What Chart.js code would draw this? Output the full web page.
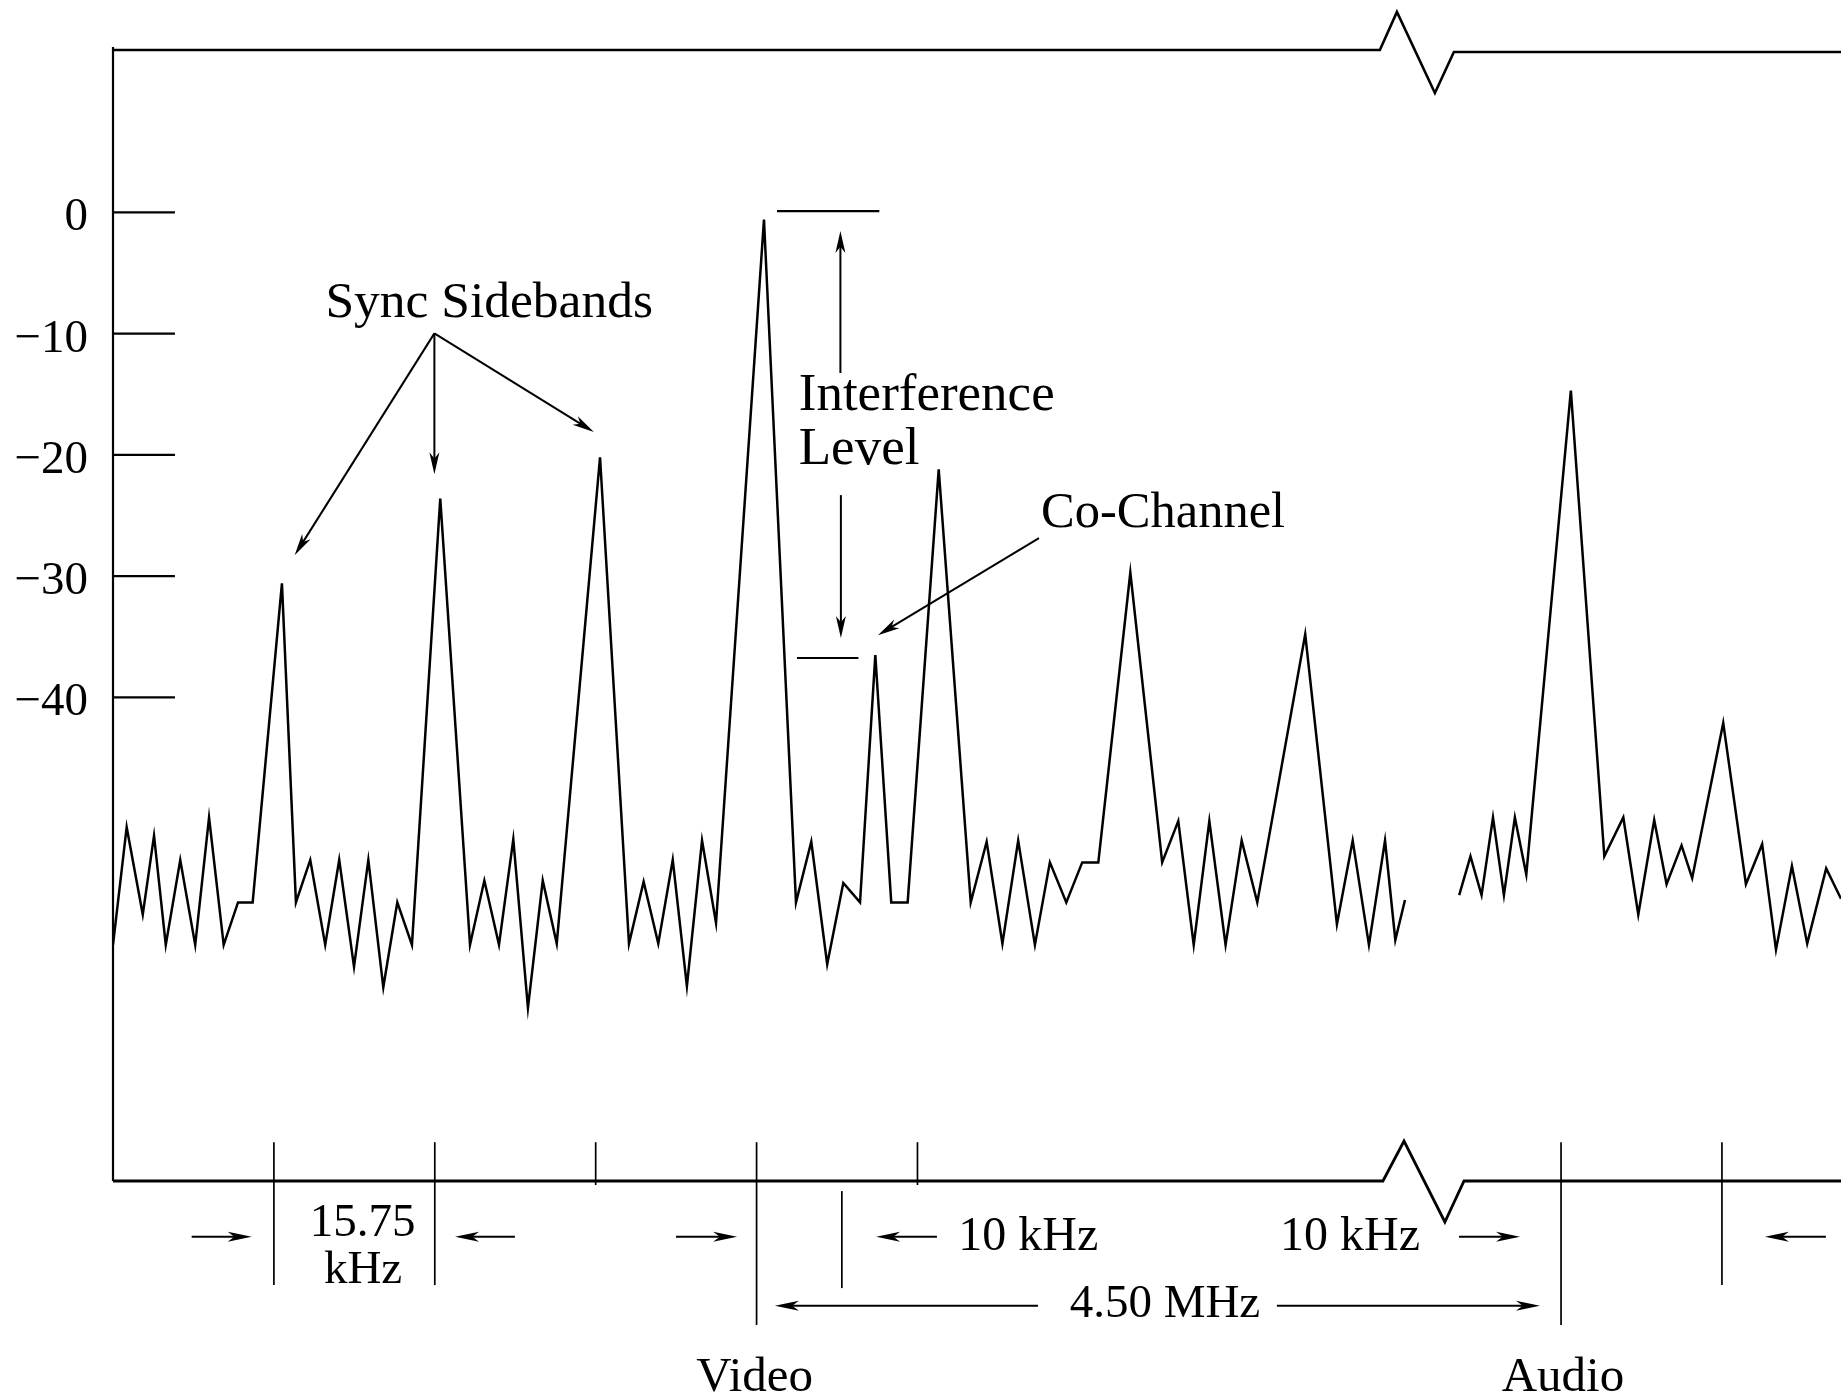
<!DOCTYPE html>
<html><head><meta charset="utf-8">
<script src="https://cdn.jsdelivr.net/npm/chart.js@4/dist/chart.umd.min.js"></script>
<style>html,body{margin:0;padding:0;background:#fff;}#wrap{width:1841px;height:1398px;position:relative;}</style>
</head><body><div id="wrap"><canvas id="c" width="1841" height="1398"></canvas></div>
<script>
// Schematic frequency position, in multiples of the line frequency (15.75 kHz) from the video carrier
const freqPos = [-4.00,-3.915,-3.815,-3.745,-3.672,-3.582,-3.489,-3.403,-3.312,-3.223,-3.132,-2.950,-2.863,-2.774,-2.681,-2.594,-2.502,-2.413,-2.320,-2.233,-2.142,-1.966,-1.781,-1.692,-1.601,-1.512,-1.421,-1.329,-1.242,-0.973,-0.793,-0.702,-0.611,-0.521,-0.433,-0.339,-0.252,0.046,0.245,0.340,0.439,0.539,0.643,0.738,0.837,0.939,1.132,1.331,1.430,1.528,1.626,1.730,1.823,1.925,2.024,2.124,2.323,2.521,2.621,2.717,2.814,2.915,3.015,3.112,3.410,3.607,3.705,3.806,3.906,3.970,4.030,4.200,4.367,4.437,4.506,4.577,4.645,4.713,4.784,5.061,5.269,5.387,5.480,5.579,5.656,5.749,5.815,6.008,6.149,6.250,6.336,6.435,6.530,6.648,6.740];
// Relative level (dB); null marks the axis break
const levelDb = [-60.4,-50.7,-57.9,-51.4,-60.4,-53.4,-60.4,-49.9,-60.4,-56.9,-56.9,-30.6,-56.9,-53.4,-60.4,-53.4,-62.2,-53.4,-63.9,-56.9,-60.4,-23.6,-60.4,-55.1,-60.4,-51.7,-65.6,-55.1,-60.3,-20.2,-60.3,-55.2,-60.3,-53.4,-63.8,-51.8,-58.6,-0.6,-56.9,-51.9,-62.0,-55.3,-56.9,-36.5,-56.9,-56.9,-21.2,-56.9,-51.9,-60.3,-51.8,-60.4,-53.6,-56.9,-53.6,-53.6,-29.7,-53.6,-50.2,-60.4,-50.2,-60.4,-51.8,-56.9,-34.8,-58.7,-51.8,-60.4,-51.8,-60.0,-56.7,null,-56.3,-53.1,-56.3,-49.9,-56.3,-49.9,-54.6,-14.7,-53.1,-49.9,-57.9,-50.1,-55.4,-52.2,-54.9,-42.1,-55.4,-52.1,-60.8,-53.9,-60.3,-54.1,-56.6];
const yTickValues = [0,-10,-20,-30,-40];
const yTickLabels = ['0','\u221210','\u221220','\u221230','\u221240'];
const xTickValues = [-3,-2,-1,0,1,5,6];

const points = freqPos.map((x,i)=>({x:x,y:levelDb[i]}));

function arrowHead(ctx, x1,y1,x2,y2,len,half){
  const a=Math.atan2(y2-y1,x2-x1);
  ctx.save();ctx.translate(x2,y2);ctx.rotate(a);
  ctx.beginPath();ctx.moveTo(0,0);ctx.lineTo(-len,-half);ctx.lineTo(-len*0.72,0);ctx.lineTo(-len,half);ctx.closePath();
  ctx.fill();ctx.restore();
}

const decor = {
  id:'decor',
  afterDraw(chart){
    const ctx=chart.ctx, xs=chart.scales.x, ys=chart.scales.y;
    const X=v=>xs.getPixelForValue(v), Y=v=>ys.getPixelForValue(v);
    const yTop=ys.max, yBot=ys.min, xL=xs.min, xR=xs.max;
    ctx.save();
    ctx.strokeStyle='#000';ctx.fillStyle='#000';ctx.lineJoin='miter';ctx.lineCap='butt';
    const poly=(pts,w)=>{ctx.lineWidth=w;ctx.beginPath();pts.forEach((p,i)=>{const px=X(p[0]),py=Y(p[1]);i?ctx.lineTo(px,py):ctx.moveTo(px,py);});ctx.stroke();};
    const arrow=(x1,y1,x2,y2,w,len,half)=>{
      const a1=X(x1),b1=Y(y1),a2=X(x2),b2=Y(y2);
      const ang=Math.atan2(b2-b1,a2-a1);
      ctx.lineWidth=w;ctx.beginPath();ctx.moveTo(a1,b1);ctx.lineTo(a2-Math.cos(ang)*len*0.6,b2-Math.sin(ang)*len*0.6);ctx.stroke();
      arrowHead(ctx,a1,b1,a2,b2,len,half);
    };
    // frame: top line with break
    poly([[xL,yTop],[3.874,yTop],[3.980,16.52],[4.216,9.84],[4.334,13.22],[xR,13.22]],2.6);
    // left axis
    poly([[xL,13.63],[xL,yBot]],2.2);
    // bottom axis with break
    poly([[xL,yBot],[3.893,yBot],[4.024,-76.58],[4.278,-83.25],[4.397,yBot],[xR,yBot]],2.8);
    // y ticks and labels
    ctx.font='47px "Liberation Serif"';ctx.textAlign='right';ctx.textBaseline='alphabetic';
    yTickValues.forEach((v,i)=>{
      poly([[xL,v],[-3.615,v]],2.2);
      ctx.fillText(yTickLabels[i],X(-4.155),Y(v)+18);
    });
    // x ticks
    const tickEnds={'-3':-88.45,'-2':-88.45,'-1':-80.2,'0':-91.74,'1':-80.2,'5':-91.74,'6':-88.45};
    xTickValues.forEach(v=>{poly([[v,-76.67],[v,tickEnds[String(v)]]],1.7);});
    poly([[0.53,-80.7],[0.53,-88.7]],1.7);
    // bottom dimension arrows
    const ay=-84.47;
    arrow(-3.511,ay,-3.138,ay,2,24,5);
    arrow(-1.502,ay,-1.874,ay,2,24,5);
    arrow(-0.501,ay,-0.121,ay,2,24,5);
    arrow(1.121,ay,0.743,ay,2,24,5);
    arrow(4.366,ay,4.745,ay,2,24,5);
    arrow(6.646,ay,6.267,ay,2,24,5);
    arrow(1.749,-90.15,0.114,-90.15,2,24,5);
    arrow(3.234,-90.15,4.869,-90.15,2,24,5);
    // bottom texts
    ctx.font='47px "Liberation Serif"';ctx.textAlign='center';
    ctx.fillText('15.75',X(-2.449),Y(-84.38));
    ctx.fillText('kHz',X(-2.446),Y(-88.28));
    ctx.fillText('4.50 MHz',X(2.538),Y(-91.1));
    ctx.font='49px "Liberation Serif"';
    ctx.fillText('Video',X(-0.012),Y(-97.19));
    ctx.fillText('Audio',X(5.012),Y(-97.19));
    ctx.font='48px "Liberation Serif"';ctx.textAlign='left';
    ctx.fillText('10 kHz',X(1.254),Y(-85.56));
    ctx.fillText('10 kHz',X(3.253),Y(-85.56));
    // annotations in plot
    ctx.textAlign='left';
    ctx.font='51.5px "Liberation Serif"';
    ctx.fillText('Sync Sidebands',X(-2.680),Y(-8.61));
    ctx.font='53px "Liberation Serif"';
    ctx.fillText('Interference',X(0.262),Y(-16.30));
    ctx.fillText('Level',X(0.262),Y(-20.78));
    ctx.font='50.5px "Liberation Serif"';
    ctx.fillText('Co-Channel',X(1.768),Y(-25.92));
    arrow(-2.0025,-9.985,-2.871,-28.28,2,22,5);
    arrow(-2.0025,-9.985,-2.0025,-21.60,2,22,5);
    arrow(-2.0025,-9.985,-1.011,-18.12,2,22,5);
    poly([[0.127,0.1],[0.763,0.1]],2.2);
    poly([[0.251,-36.75],[0.633,-36.75]],2.2);
    arrow(0.521,-13.25,0.521,-1.54,2,22,5);
    arrow(0.524,-23.32,0.524,-35.11,2,22,5);
    arrow(1.755,-26.87,0.754,-34.87,2,22,5);
    ctx.restore();
  }
};

new Chart(document.getElementById('c').getContext('2d'),{
  type:'line',
  data:{datasets:[{data:points,borderColor:'#000',borderWidth:2.5,pointRadius:0,pointHoverRadius:0,tension:0,fill:false,spanGaps:false,borderJoinStyle:'miter',borderCapStyle:'butt'}]},
  options:{responsive:false,devicePixelRatio:1,animation:false,events:[],
    layout:{padding:{left:113,top:50,right:0,bottom:217}},
    plugins:{legend:{display:false},tooltip:{enabled:false}},
    scales:{x:{type:'linear',min:-4,max:6.74,display:false},y:{type:'linear',min:-79.87,max:13.38,display:false}}},
  plugins:[decor]
});
</script></body></html>
